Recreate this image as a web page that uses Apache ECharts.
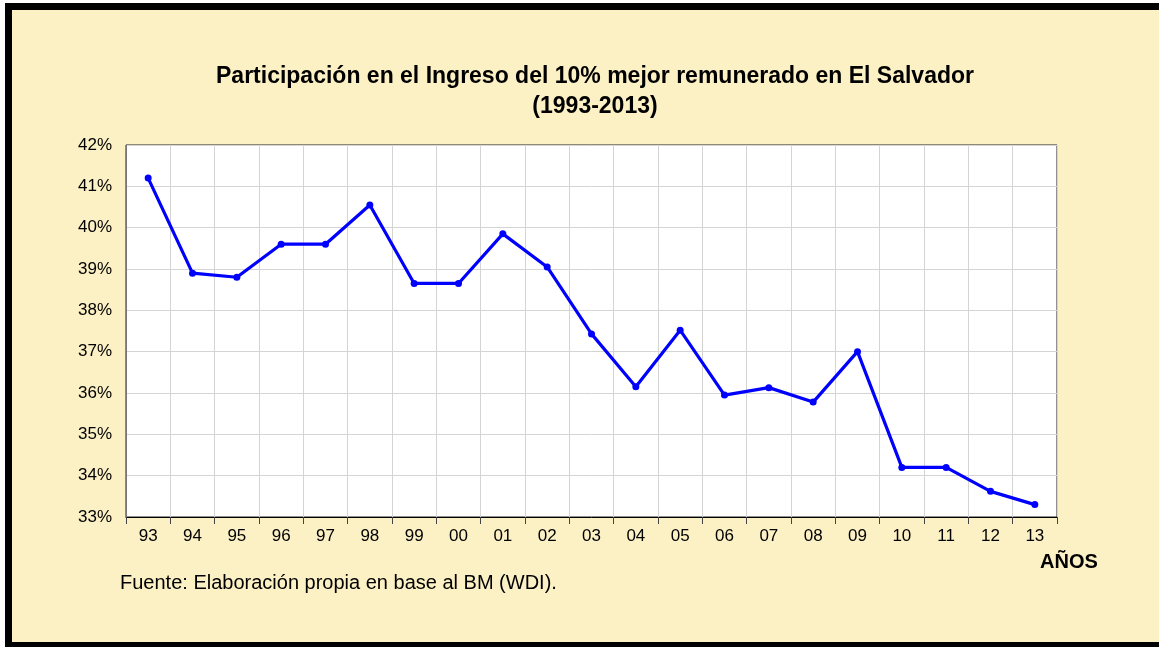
<!DOCTYPE html>
<html>
<head>
<meta charset="utf-8">
<script src="https://cdn.jsdelivr.net/npm/echarts@6/dist/echarts.min.js"></script>
<style>
  html, body { margin: 0; padding: 0; background: #fff; }
  .frame {
    position: absolute;
    left: 5px;
    top: 3px;
    width: 1170px;
    height: 646px;
    box-sizing: border-box;
    border: 7px solid #000;
    border-right: none;
    background: #FCF1C4;
  }
  #chart_ingreso {
    position: absolute;
    left: 0;
    top: 0;
    width: 1159px;
    height: 647px;
  }
</style>
</head>
<body>
<div class="frame"></div>
<div id="chart_ingreso"></div>

<script>
// años (eje x)
const years = ['93', '94', '95', '96', '97', '98', '99', '00', '01', '02', '03',
  '04', '05', '06', '07', '08', '09', '10', '11', '12', '13'];

// participación del 10% mejor remunerado (%)
const shareTop10 = [41.2, 38.9, 38.8, 39.6, 39.6, 40.55, 38.65, 38.65, 39.85, 39.05, 37.43,
  36.15, 37.52, 35.95, 36.13, 35.78, 37.0, 34.2, 34.2, 33.62, 33.3];

const titleLines = ['Participación en el Ingreso del 10% mejor remunerado en El Salvador', '(1993-2013)'];
const sourceNote = 'Fuente: Elaboración propia en base al BM (WDI).';
const xName = 'AÑOS';

let myChart = echarts.init(document.getElementById('chart_ingreso'));

let option = {
  backgroundColor: 'transparent',
  animation: false,
  title: {
    text: titleLines.join('\n'),
    left: 590,
    top: 57,
    textAlign: 'center',
    textStyle: {
      fontFamily: 'Liberation Sans, Arial, sans-serif',
      fontSize: 23,
      fontWeight: 'bold',
      color: '#000',
      lineHeight: 30
    }
  },
  grid: {
    left: 126,
    top: 145,
    right: 102,
    bottom: 130,
    show: true,
    backgroundColor: '#fff',
    borderColor: '#222',
    borderWidth: 1
  },
  xAxis: {
    type: 'category',
    data: years,
    boundaryGap: true,
    axisLine: {
      show: true,
      lineStyle: { color: '#000', width: 1 }
    },
    axisTick: {
      show: true,
      interval: 0,
      length: 7,
      lineStyle: { color: '#444' }
    },
    axisLabel: {
      interval: 0,
      margin: 11,
      fontFamily: 'Liberation Sans, Arial, sans-serif',
      fontSize: 17,
      color: '#000'
    },
    splitLine: {
      show: true,
      interval: 0,
      lineStyle: { color: '#d4d4d4', width: 1 }
    }
  },
  yAxis: {
    type: 'value',
    min: 33,
    max: 42,
    interval: 1,
    axisLine: {
      show: true,
      lineStyle: { color: '#777' }
    },
    axisTick: { show: false },
    axisLabel: {
      margin: 14,
      formatter: '{value}%',
      fontFamily: 'Liberation Sans, Arial, sans-serif',
      fontSize: 17,
      color: '#000'
    },
    splitLine: {
      show: true,
      lineStyle: { color: '#d4d4d4', width: 1 }
    }
  },
  graphic: [
    {
      type: 'text',
      left: 1040,
      top: 552,
      style: {
        text: xName,
        fontFamily: 'Liberation Sans, Arial, sans-serif',
        fontSize: 20,
        fontWeight: 'bold',
        fill: '#000'
      }
    },
    {
      type: 'text',
      left: 120,
      top: 573,
      style: {
        text: sourceNote,
        fontFamily: 'Liberation Sans, Arial, sans-serif',
        fontSize: 20,
        fill: '#000'
      }
    }
  ],
  series: [{
    name: 'Participación',
    type: 'line',
    data: shareTop10,
    symbol: 'circle',
    symbolSize: 7,
    lineStyle: { color: '#0000FF', width: 3.2 },
    itemStyle: { color: '#0000FF' }
  }]
};

myChart.setOption(option, true);

window.addEventListener('resize', () => {
  myChart.resize();
});
</script>
</body>
</html>
